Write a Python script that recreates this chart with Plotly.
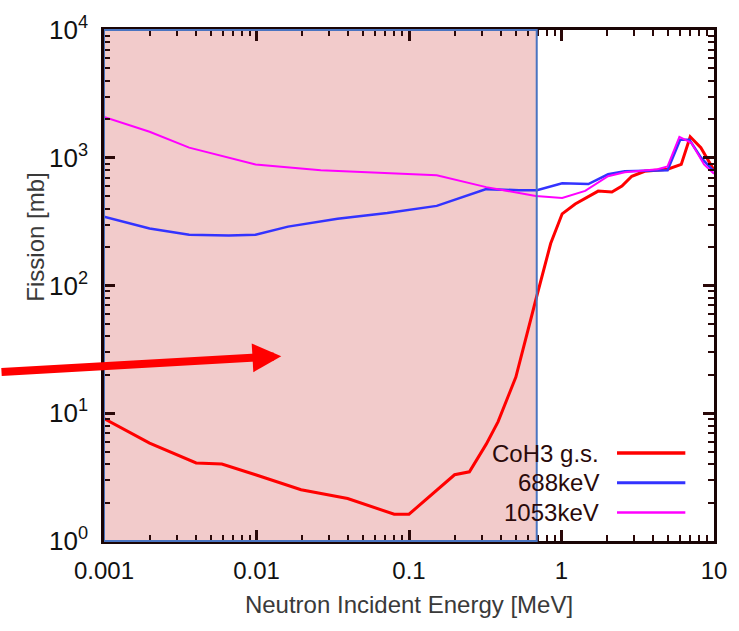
import plotly.graph_objects as go

# ---------------- data ----------------
energy_gs = [0.001, 0.00199, 0.00402, 0.00593, 0.00986, 0.0196, 0.0396, 0.080, 0.100,
             0.152, 0.199, 0.249, 0.321, 0.384, 0.502, 0.678, 0.849, 1.01, 1.23,
             1.74, 2.14, 2.49, 2.89, 3.51, 4.96, 6.1, 6.98, 8.2, 9.7, 10.0]
fission_gs = [9.1, 5.83, 4.08, 4.01, 3.30, 2.52, 2.15, 1.62, 1.62,
              2.48, 3.30, 3.48, 5.73, 8.6, 19.2, 77, 213, 364, 435,
              548, 540, 600, 716, 783, 813, 887, 1460, 1200, 841, 800]

energy_688 = [0.001, 0.00199, 0.00362, 0.00658, 0.00986, 0.0161, 0.034, 0.072, 0.152,
              0.321, 0.526, 0.69, 1.01, 1.50, 2.02, 2.6, 4.96, 6.0, 6.9, 8.2, 9.7, 10.0]
fission_688 = [345, 279, 250, 246, 250, 289, 333, 370, 420,
               568, 557, 557, 632, 622, 742, 783, 797, 1384, 1384, 1005, 811, 790]

energy_1053 = [0.001, 0.00199, 0.00362, 0.00986, 0.0264, 0.152, 0.321, 0.678, 1.01,
               1.43, 2.02, 2.6, 4.27, 4.96, 5.93, 7.1, 8.6, 9.7, 10.0]
fission_1053 = [2085, 1596, 1200, 887, 797, 729, 589, 502, 484,
                550, 717, 771, 813, 856, 1459, 1310, 887, 771, 750]

series_names = ["CoH3 g.s.", "688keV", "1053keV"]
series_colors = ["#ff0000", "#3333ff", "#ff00ff"]
series_widths = [3, 2.5, 2]

shade_max_mev = 0.688   # shaded energy window (up to 688 keV)

x_tickvals = [0.001, 0.01, 0.1, 1, 10]
x_ticktext = ["0.001", "0.01", "0.1", "1", "10"]
y_tickvals = [1, 10, 100, 1000, 10000]
y_ticktext = ["10<sup>0</sup>", "10<sup>1</sup>", "10<sup>2</sup>",
              "10<sup>3</sup>", "10<sup>4</sup>"]

# ---------------- figure ----------------
FONT = "Liberation Sans, Arial, sans-serif"
fig = go.Figure()
xs = [energy_gs, energy_688, energy_1053]
ys = [fission_gs, fission_688, fission_1053]
for x, y, n, c, w in zip(xs, ys, series_names, series_colors, series_widths):
    fig.add_trace(go.Scatter(x=x, y=y, mode="lines", name=n,
                             line=dict(color=c, width=w), showlegend=False))

axis_common = dict(
    type="log", showgrid=False, zeroline=False,
    showline=True, linecolor="#1a0505", linewidth=2.5, mirror="allticks",
    ticks="inside", ticklen=11, tickwidth=2.5, tickcolor="#2a0808",
    minor=dict(ticks="inside", ticklen=6, tickwidth=2, tickcolor="#2a0808",
               dtick="D1", showgrid=False),
)

fig.update_layout(
    width=739, height=631,
    margin=dict(l=104, r=19, t=24, b=90),
    paper_bgcolor="white", plot_bgcolor="white",
    font=dict(family=FONT, color="black"),
    xaxis=dict(axis_common, range=[-3, 1], tickvals=x_tickvals, ticktext=x_ticktext,
               tickfont=dict(size=24, color="#111"),
               ticklabelstandoff=6,
               title=dict(text="Neutron Incident Energy [MeV]",
                          font=dict(size=24, color="#3a3a3a"), standoff=14)),
    yaxis=dict(axis_common, range=[0, 4], tickvals=y_tickvals, ticktext=y_ticktext,
               tickfont=dict(size=26, color="#111"),
               ticklabelstandoff=8),
)

# shaded window: fill below the data, blue outline above the axes
fig.add_shape(type="rect", xref="x", yref="paper", x0=x_tickvals[0], x1=shade_max_mev,
              y0=0, y1=1, fillcolor="#f2cbcb", line=dict(width=0), layer="below")
fig.add_shape(type="rect", xref="x", yref="paper", x0=x_tickvals[0], x1=shade_max_mev,
              y0=0, y1=1, fillcolor="rgba(0,0,0,0)",
              line=dict(color="#4a74c0", width=2), layer="above")

# y axis title placed as in the reference (above centre)
fig.add_annotation(text="Fission [mb]", xref="paper", yref="paper",
                   x=-0.112, y=0.595, textangle=-90, showarrow=False,
                   xanchor="center", yanchor="middle",
                   font=dict(size=24, color="#3a3a3a", family=FONT))

# custom legend: text right-aligned, line sample to the right
legend_y = [0.172, 0.114, 0.056]
for n, c, w, ly in zip(series_names, series_colors, series_widths, legend_y):
    fig.add_annotation(text=n, xref="paper", yref="paper", x=0.815, y=ly,
                       xanchor="right", yanchor="middle", showarrow=False,
                       font=dict(size=24, color="#2a0a0a", family=FONT))
    fig.add_shape(type="line", xref="paper", yref="paper", x0=0.841, x1=0.953,
                  y0=ly, y1=ly, line=dict(color=c, width=w + 0.5))

# red arrow pointing into the shaded region
fig.add_annotation(xref="paper", yref="paper", x=0.2906, y=0.3617, text="",
                   showarrow=True, axref="pixel", ayref="pixel", ax=-290, ay=16,
                   arrowhead=2, arrowsize=0.72, arrowwidth=8, arrowcolor="#ff0000")

fig.write_html("out.html")
